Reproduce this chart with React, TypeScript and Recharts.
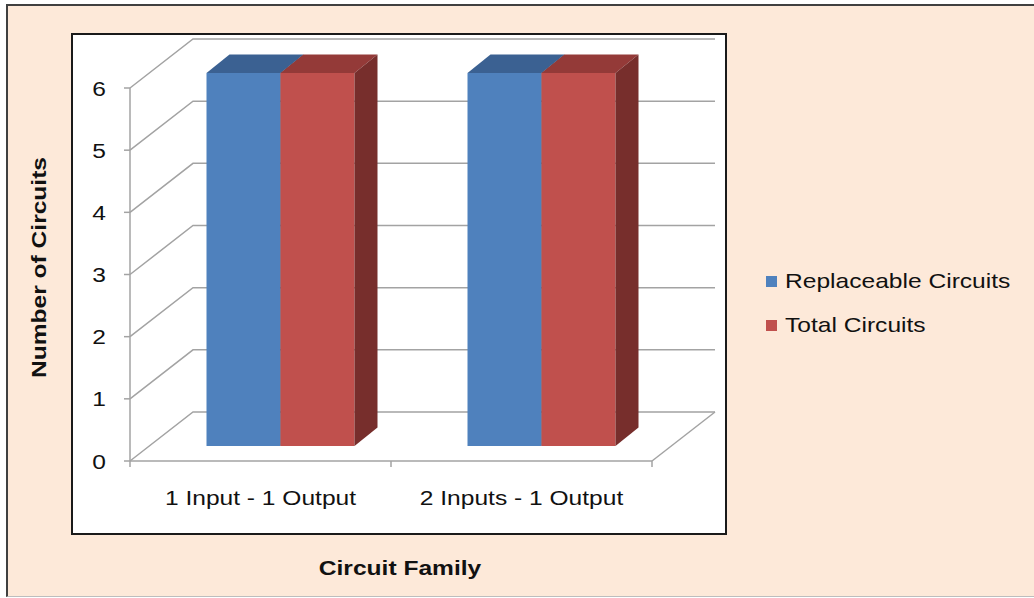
import React from "react";
import { BarChart, Bar, XAxis, YAxis, CartesianGrid, Legend, Label } from "recharts";

const categories = ["1 Input - 1 Output", "2 Inputs - 1 Output"];
const replaceableCircuits = [6, 6];
const totalCircuits = [6, 6];
const yTicks = [0, 1, 2, 3, 4, 5, 6];

const data = categories.map((family, i) => ({
  family,
  replaceable: replaceableCircuits[i],
  total: totalCircuits[i],
}));

const FONT = '"Liberation Sans", Arial, sans-serif';
const STRETCH = 1.17; // the original text is drawn a bit wide
const GRID = "#a3a3a3";

// fake 3d: back wall offset, and where the bars sit in depth
const WALL_DX = 63;
const WALL_DY = -49;
const BAR_DX = 19.5;
const BAR_DY = -15;
const DEPTH_DX = 23;
const DEPTH_DY = -18.5;

function Box3D(props: any) {
  const { x, y, width, height, fill, topColor, sideColor } = props;
  const fx = x + BAR_DX;
  const fy = y + BAR_DY;
  return (
    <g>
      <rect x={fx} y={fy} width={width} height={height} fill={fill} />
      <polygon
        points={`${fx},${fy} ${fx + width},${fy} ${fx + width + DEPTH_DX},${fy + DEPTH_DY} ${fx + DEPTH_DX},${fy + DEPTH_DY}`}
        fill={topColor}
      />
      <polygon
        points={`${fx + width},${fy} ${fx + width + DEPTH_DX},${fy + DEPTH_DY} ${fx + width + DEPTH_DX},${fy + height + DEPTH_DY} ${fx + width},${fy + height}`}
        fill={sideColor}
      />
    </g>
  );
}

const gridLine = (p: any) => {
  const { x1, x2, y1 } = p;
  return (
    <path
      key={p.key ?? `g-${y1}`}
      d={`M${x1},${y1} L${x1 + WALL_DX},${y1 + WALL_DY} L${x2 + WALL_DX},${y1 + WALL_DY}`}
      stroke={GRID}
      strokeWidth={1.5}
      fill="none"
    />
  );
};

const YTick = (p: any) => {
  const { x, y, payload } = p;
  return (
    <text
      transform={`translate(${x},${y + 7.5}) scale(${STRETCH},1)`}
      textAnchor="end"
      fontFamily={FONT}
      fontSize={21}
      fill="#111"
    >
      {payload.value}
    </text>
  );
};

const XTick = (p: any) => {
  const { x, y, payload, index, visibleTicksCount } = p;
  const half = payload.offset || 130.5;
  const last = index === visibleTicksCount - 1;
  return (
    <g>
      <line x1={x - half} y1={y} x2={x - half} y2={y + 6} stroke={GRID} strokeWidth={1.5} />
      {last && (
        <>
          <line x1={x + half} y1={y} x2={x + half} y2={y + 6} stroke={GRID} strokeWidth={1.5} />
          <line x1={x + half} y1={y} x2={x + half + WALL_DX} y2={y + WALL_DY} stroke={GRID} strokeWidth={1.5} />
        </>
      )}
      <text
        transform={`translate(${x},${y + 44}) scale(${STRETCH},1)`}
        textAnchor="middle"
        fontFamily={FONT}
        fontSize={21}
        fill="#111"
      >
        {payload.value}
      </text>
    </g>
  );
};

const XTitle = (p: any) => {
  const { x, y, width } = p.viewBox;
  return (
    <text
      transform={`translate(${x + width / 2 + 9},${y + 114}) scale(${STRETCH},1)`}
      textAnchor="middle"
      fontFamily={FONT}
      fontWeight="bold"
      fontSize={21}
      fill="#111"
    >
      Circuit Family
    </text>
  );
};

const YTitle = (p: any) => {
  const { x, y, height } = p.viewBox;
  return (
    <text
      transform={`translate(${x - 24},${y + height / 2 - 7}) rotate(-90) scale(${STRETCH},1)`}
      textAnchor="middle"
      fontFamily={FONT}
      fontWeight="bold"
      fontSize={21}
      fill="#111"
    >
      Number of Circuits
    </text>
  );
};

const renderLegend = (props: any) => {
  const items = props.payload || [];
  return (
    <div style={{ fontFamily: FONT, fontSize: 21, color: "#111" }}>
      {items.map((it: any) => (
        <div key={it.value} style={{ display: "flex", alignItems: "center", height: 44 }}>
          <span style={{ width: 11, height: 11, background: it.color, marginRight: 8, display: "inline-block" }} />
          <span style={{ display: "inline-block", transform: `scaleX(${STRETCH})`, transformOrigin: "left", whiteSpace: "nowrap" }}>
            {it.value}
          </span>
        </div>
      ))}
    </div>
  );
};

export default function App() {
  return (
    <div style={{ position: "absolute", left: 0, top: 0, width: 1034, height: 598, overflow: "hidden", background: "#fff" }}>
      <div
        style={{
          position: "absolute",
          left: 6,
          top: 4,
          width: 1040,
          height: 590,
          background: "#fde9d9",
          borderLeft: "2px solid #404040",
          borderTop: "2px solid #404040",
          borderBottom: "1px solid #bdbdbd",
        }}
      />
      <div
        style={{
          position: "absolute",
          left: 71,
          top: 33,
          width: 652,
          height: 498,
          background: "#fff",
          border: "2px solid #1a1a1a",
        }}
      />
      <div style={{ position: "absolute", left: 0, top: 0 }}>
        <BarChart
          width={1034}
          height={598}
          data={data}
          margin={{ top: 88, right: 382, bottom: 97, left: 70 }}
          barGap={0}
          barSize={74}
        >
          <CartesianGrid vertical={false} horizontal={gridLine} />
          <XAxis
            dataKey="family"
            height={40}
            tickLine={false}
            tickSize={0}
            tickMargin={0}
            axisLine={{ stroke: GRID, strokeWidth: 1.5 }}
            tick={<XTick />}
            interval={0}
          >
            <Label content={<XTitle />} />
          </XAxis>
          <YAxis
            width={60}
            domain={[0, 6]}
            ticks={yTicks}
            interval={0}
            tickSize={6}
            tickMargin={18}
            axisLine={{ stroke: GRID, strokeWidth: 1.5 }}
            tickLine={{ stroke: GRID, strokeWidth: 1.5 }}
            tick={<YTick />}
          >
            <Label content={<YTitle />} />
          </YAxis>
          <Legend
            layout="horizontal"
            verticalAlign="middle"
            align="center"
            content={renderLegend}
            wrapperStyle={{ left: 766, top: 259, width: 260, right: "auto", bottom: "auto" }}
          />
          <Bar
            dataKey="replaceable"
            name="Replaceable Circuits"
            fill="#4f81bd"
            isAnimationActive={false}
            shape={(p: any) => <Box3D {...p} topColor="#3b6192" sideColor="#2f4d74" />}
          />
          <Bar
            dataKey="total"
            name="Total Circuits"
            fill="#c0504d"
            isAnimationActive={false}
            shape={(p: any) => <Box3D {...p} topColor="#943a38" sideColor="#772e2c" />}
          />
        </BarChart>
      </div>
    </div>
  );
}
